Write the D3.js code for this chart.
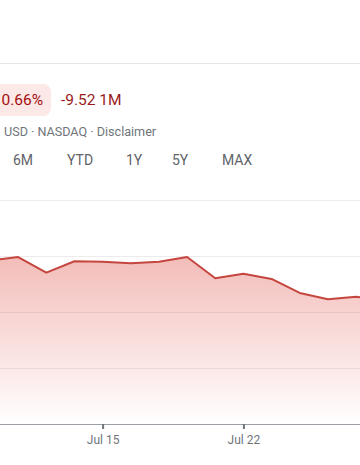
<!DOCTYPE html>
<html><head><meta charset="utf-8">
<script src="https://cdn.jsdelivr.net/npm/d3@7"></script>
<style>
html,body{margin:0;padding:0;background:#fff;overflow:hidden;}
svg{display:block;font-family:Roboto,"Noto Sans",Arial,sans-serif;}
</style></head>
<body>
<svg id="c" width="360" height="465"></svg>
<script>
const dates = ["Jul 9","Jul 10","Jul 11","Jul 12","Jul 15","Jul 16","Jul 17","Jul 18","Jul 19","Jul 22","Jul 23","Jul 24","Jul 25","Jul 26","Jul 29"];
const prices = [89.6,89.91,88.51,89.53,89.49,89.35,89.49,89.91,88.01,88.42,87.95,86.70,86.13,86.37,86.0];
const tickLabels = ["Jul 15","Jul 22"];
const gridValues = [80,85,90,95];
const ranges = ["6M","YTD","1Y","5Y","MAX"];
const changePct = "-10.66%";
const changeAbs = "-9.52 1M";
const meta = "USD · NASDAQ · Disclaimer";

const svg = d3.select("#c");
const W = 360, H = 465;

// top divider
svg.append("line").attr("x1",0).attr("x2",W).attr("y1",63.5).attr("y2",63.5)
  .attr("stroke","#e6e6e6").attr("stroke-width",1);

// badge
svg.append("rect").attr("x",-20).attr("y",84).attr("width",71).attr("height",32).attr("rx",8)
  .attr("fill","#fce8e6");
svg.append("text").attr("x",43).attr("y",105).attr("text-anchor","end")
  .attr("font-size",15.5).attr("fill","#a50e0e").text(changePct);
svg.append("text").attr("x",61).attr("y",105)
  .attr("font-size",15.5).attr("fill","#9a1b1b").text(changeAbs);
svg.append("text").attr("x",4).attr("y",136)
  .attr("font-size",12.6).attr("fill","#70757a").text(meta);

// range buttons
const btnX = [13,67,126,172,222];
svg.selectAll("text.rng").data(ranges).join("text").attr("class","rng")
  .attr("x",(d,i)=>btnX[i]).attr("y",165)
  .attr("font-size",14).attr("font-weight",400).attr("fill","#5f6368").text(d=>d);

// scales
const x = d3.scalePoint().domain(dates).range([-10, 384.2]);
const y = d3.scaleLinear().domain([75,95]).range([424,200]);

// grid
svg.selectAll("line.grid").data(gridValues).join("line").attr("class","grid")
  .attr("x1",0).attr("x2",W).attr("y1",d=>y(d)+0.5).attr("y2",d=>y(d)+0.5)
  .attr("stroke","#ececec").attr("stroke-width",1);

// gradient
const defs = svg.append("defs");
const g = defs.append("linearGradient").attr("id","fillg")
  .attr("gradientUnits","userSpaceOnUse").attr("x1",0).attr("x2",0)
  .attr("y1",y(d3.max(prices))).attr("y2",y(75));
g.append("stop").attr("offset","0%").attr("stop-color","#d93025").attr("stop-opacity",0.32);
g.append("stop").attr("offset","100%").attr("stop-color","#d93025").attr("stop-opacity",0.0);

const data = dates.map((d,i)=>({d, v:prices[i]}));
svg.append("path").datum(data)
  .attr("d", d3.area().x(p=>x(p.d)).y0(y(75)).y1(p=>y(p.v)))
  .attr("fill","url(#fillg)");
svg.append("path").datum(data)
  .attr("d", d3.line().x(p=>x(p.d)).y(p=>y(p.v)))
  .attr("fill","none").attr("stroke","#c5453f").attr("stroke-width",2).attr("stroke-linejoin","round");

// x axis
const ax = svg.append("g").attr("transform",`translate(0,${y(75)})`)
  .call(d3.axisBottom(x).tickValues(tickLabels).tickSize(5).tickPadding(6));
ax.select(".domain").remove();
ax.insert("line",":first-child").attr("x1",0).attr("x2",W).attr("y1",0.5).attr("y2",0.5)
  .attr("stroke","#9aa0a6").attr("stroke-width",1);
ax.selectAll(".tick line").attr("stroke","#70757a").attr("stroke-width",2);
ax.selectAll(".tick text").attr("fill","#70757a").attr("font-size",12)
  .attr("font-family","Roboto,'Noto Sans',Arial,sans-serif");
</script>
</body></html>
